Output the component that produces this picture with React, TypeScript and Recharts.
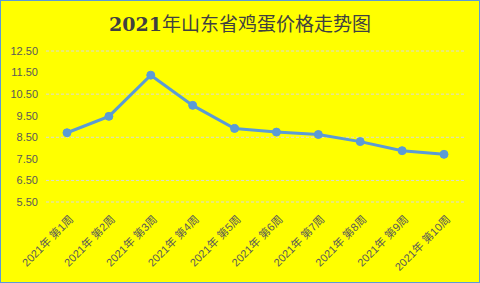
import { LineChart, Line, XAxis, YAxis, CartesianGrid } from "recharts";

const weeks = [
  "2021年 第1周",
  "2021年 第2周",
  "2021年 第3周",
  "2021年 第4周",
  "2021年 第5周",
  "2021年 第6周",
  "2021年 第7周",
  "2021年 第8周",
  "2021年 第9周",
  "2021年 第10周",
];
const prices = [8.71, 9.47, 11.38, 9.98, 8.91, 8.74, 8.63, 8.3, 7.88, 7.71];
const yTicks = [5.5, 6.5, 7.5, 8.5, 9.5, 10.5, 11.5, 12.5];

const data = weeks.map((week, i) => ({ week, price: prices[i] }));

const FONT = "'Liberation Sans', 'Noto Sans CJK SC', sans-serif";

// rotated category label, end of text sits just under the tick
const WeekTick = (props: any) => {
  const { x, y, payload } = props;
  return (
    <g transform={`translate(${x + 7},${y + 10}) rotate(-45)`}>
      <text x={0} y={0} textAnchor="end" fontSize={11} fill="#595959" fontFamily={FONT}>
        {payload.value}
      </text>
    </g>
  );
};

const App = () => {
  return (
    <div
      style={{
        position: "absolute",
        left: 0,
        top: 0,
        width: 480,
        height: 283,
        boxSizing: "border-box",
        border: "1px solid #5B9BD5",
        background: "#FFFF00",
      }}
    >
      <div
        style={{
          position: "absolute",
          top: 9,
          left: 0,
          width: 478,
          textAlign: "center",
          fontSize: 19,
          color: "#404040",
          fontFamily: "'Noto Sans CJK SC', sans-serif",
          lineHeight: "26px",
        }}
      >
        <span style={{ fontFamily: "'DejaVu Serif', serif", fontWeight: "bold" }}>
          2021
        </span>
        年山东省鸡蛋价格走势图
      </div>
      <LineChart
        width={478}
        height={281}
        data={data}
        margin={{ top: 50, right: 14, left: 0, bottom: 0 }}
      >
        <CartesianGrid
          vertical={false}
          stroke="#D9D9D9"
          strokeDasharray="3 2"
        />
        <XAxis
          dataKey="week"
          axisLine={false}
          tickLine={false}
          interval={0}
          height={80}
          padding={{ left: 21, right: 21 }}
          tick={<WeekTick />}
        />
        <YAxis
          domain={[5.5, 12.5]}
          ticks={yTicks}
          axisLine={false}
          tickLine={false}
          tickSize={0}
          tickMargin={8}
          width={45}
          tickFormatter={(v: number) => v.toFixed(2)}
          tick={{ fontSize: 11, fill: "#595959", fontFamily: FONT }}
        />
        <Line
          type="linear"
          dataKey="price"
          stroke="#5B9BD5"
          strokeWidth={3}
          dot={{ r: 4, fill: "#5B9BD5", stroke: "#5B9BD5", strokeWidth: 1 }}
          isAnimationActive={false}
        />
      </LineChart>
    </div>
  );
};

export default App;
